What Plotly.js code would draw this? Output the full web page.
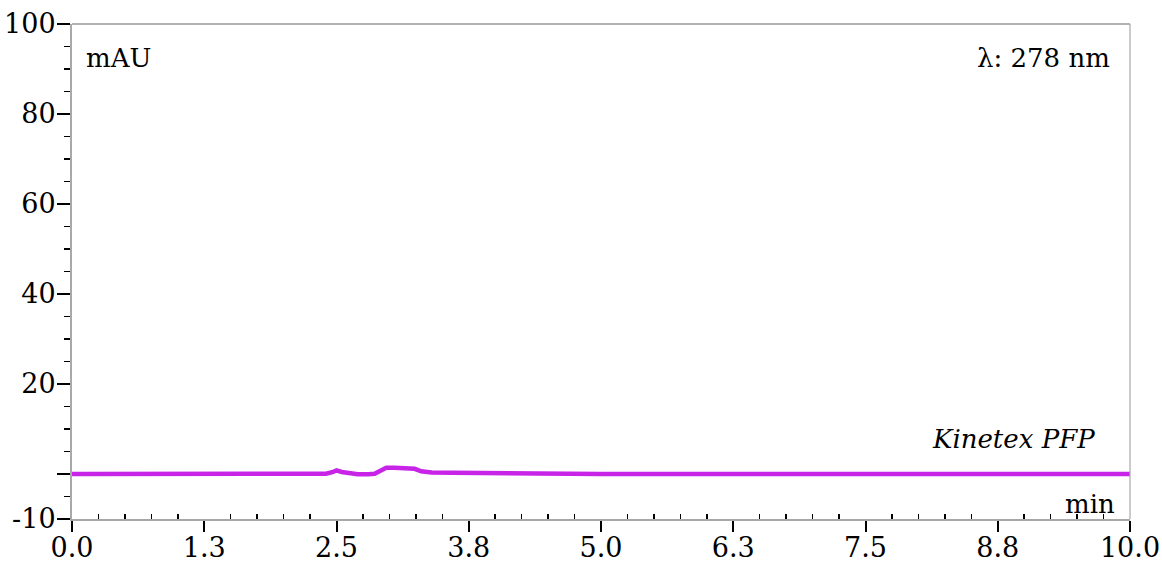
<!DOCTYPE html>
<html>
<head>
<meta charset="utf-8">
<script src="https://cdn.plot.ly/plotly-3.0.1.min.js"></script>
<style>
  html, body { margin: 0; padding: 0; background: #ffffff; }
  #chart { width: 1162px; height: 565px; }
</style>
</head>
<body>
<div id="chart"></div>
<script>
// Chromatogram trace: retention time (min) and absorbance (mAU)
const timeMin = [0, 0.5, 1.0, 1.5, 2.0, 2.4, 2.46, 2.5, 2.55, 2.62, 2.7, 2.8, 2.86, 2.92, 2.97,
                 3.05, 3.15, 3.24, 3.3, 3.4, 3.6, 3.8, 4.0, 4.3, 4.4, 5, 6, 7, 8, 9, 10];
const absorbance = [0, 0.05, 0, 0.05, 0, 0.05, 0.4, 0.8, 0.45, 0.1, -0.05, -0.05, 0.05, 0.8, 1.4,
                    1.4, 1.3, 1.15, 0.6, 0.35, 0.3, 0.3, 0.3, 0.25, 0.1, 0, 0, 0.05, 0, 0, 0];

const xTickVals = [0, 1.25, 2.5, 3.75, 5, 6.25, 7.5, 8.75, 10];
const xTickText = ['0.0', '1.3', '2.5', '3.8', '5.0', '6.3', '7.5', '8.8', '10.0'];
const yTickVals = [-10, 0, 20, 40, 60, 80, 100];
const yTickText = ['-10', '', '20', '40', '60', '80', '100'];

const seriesName = 'Kinetex PFP';
const wavelengthLabel = 'λ: 278 nm';
const yUnit = 'mAU';
const xUnit = 'min';

const FONT = 'DejaVu Serif, serif';
const TICK_SIZE = 27;
const LABEL_SIZE = 26;

// minor ticks: every 0.25 min on x, every 5 mAU on y
const xMinor = [];
for (let i = 0; i <= 40; i++) { if (i % 5 !== 0) xMinor.push(i * 0.25); }
const yMinor = [];
for (let v = -10; v <= 100; v += 5) { if (!yTickVals.includes(v)) yMinor.push(v); }

const trace = {
  x: timeMin,
  y: absorbance,
  type: 'scatter',
  mode: 'lines',
  name: seriesName,
  line: { color: '#c724e8', width: 4.5 },
  hoverinfo: 'skip'
};

const layout = {
  width: 1162,
  height: 565,
  margin: { l: 72, r: 32, t: 24, b: 46 },
  paper_bgcolor: '#ffffff',
  plot_bgcolor: '#ffffff',
  showlegend: false,
  font: { family: FONT, size: LABEL_SIZE, color: '#000000' },
  xaxis: {
    range: [0, 10],
    tickmode: 'array',
    tickvals: xTickVals,
    ticktext: xTickText,
    ticks: 'outside',
    ticklen: 11,
    tickwidth: 2,
    tickcolor: '#000000',
    ticklabelstandoff: -7,
    minor: { tickmode: 'array', tickvals: xMinor, ticks: 'inside', ticklen: 5, tickwidth: 1.5, tickcolor: '#000000' },
    showgrid: false,
    zeroline: false,
    showline: true,
    linecolor: '#a8a8a8',
    linewidth: 2,
    tickfont: { family: FONT, size: TICK_SIZE, color: '#000000' },
    fixedrange: true
  },
  yaxis: {
    range: [-10, 100],
    tickmode: 'array',
    tickvals: yTickVals,
    ticktext: yTickText,
    ticks: 'outside',
    ticklen: 13,
    tickwidth: 2,
    tickcolor: '#000000',
    ticklabelstandoff: -4,
    minor: { tickmode: 'array', tickvals: yMinor, ticks: 'outside', ticklen: 6, tickwidth: 1.5, tickcolor: '#000000' },
    showgrid: false,
    zeroline: false,
    showline: true,
    linecolor: '#a8a8a8',
    linewidth: 2,
    tickfont: { family: FONT, size: TICK_SIZE, color: '#000000' },
    fixedrange: true
  },
  shapes: [
    { type: 'line', xref: 'paper', yref: 'paper', x0: 0, x1: 1, y0: 1, y1: 1, line: { color: '#666666', width: 1.2 } },
    { type: 'line', xref: 'paper', yref: 'paper', x0: 1, x1: 1, y0: 0, y1: 1, line: { color: '#a8a8a8', width: 1.2 } }
  ],
  annotations: [
    { text: yUnit, xref: 'paper', yref: 'paper', x: 0.0113, y: 0.931, xanchor: 'left', yanchor: 'middle', showarrow: false, font: { family: FONT, size: LABEL_SIZE, color: '#000000' } },
    { text: wavelengthLabel, xref: 'paper', yref: 'paper', x: 0.983, y: 0.931, xanchor: 'right', yanchor: 'middle', showarrow: false, font: { family: FONT, size: LABEL_SIZE, color: '#000000' } },
    { text: '<i>' + seriesName + '</i>', xref: 'paper', yref: 'paper', x: 0.969, y: 0.162, xanchor: 'right', yanchor: 'middle', showarrow: false, font: { family: FONT, size: LABEL_SIZE, color: '#000000' } },
    { text: xUnit, xref: 'paper', yref: 'paper', x: 0.988, y: 0.031, xanchor: 'right', yanchor: 'middle', showarrow: false, font: { family: FONT, size: LABEL_SIZE, color: '#000000' } }
  ]
};

Plotly.newPlot('chart', [trace], layout, { displayModeBar: false, staticPlot: true });
</script>
</body>
</html>
